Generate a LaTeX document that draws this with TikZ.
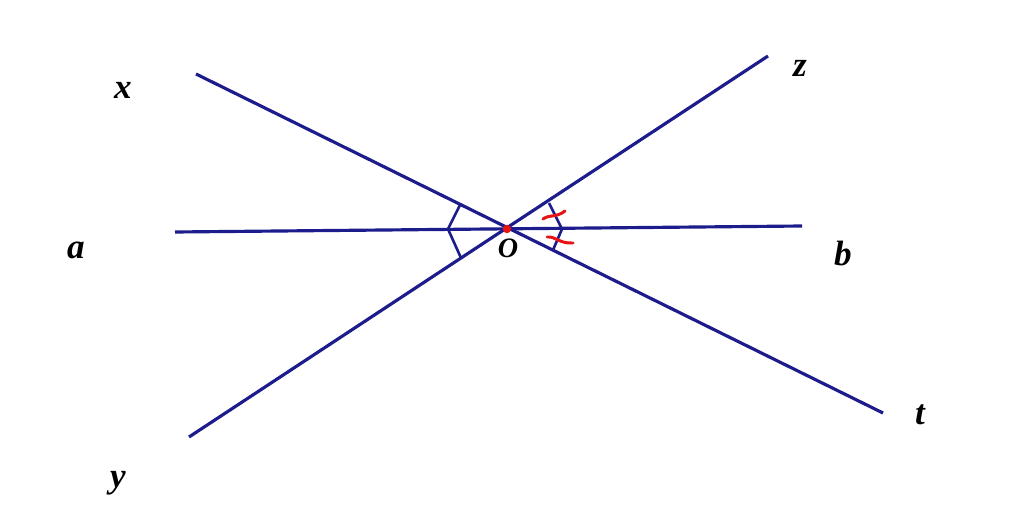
\documentclass[tikz,border=0pt]{standalone}
\usepackage{fontspec}
\setmainfont{Liberation Serif}
\definecolor{navy}{RGB}{28,28,140}
\definecolor{mred}{RGB}{230,20,20}
\begin{document}
\begin{tikzpicture}[x=0.02cm,y=-0.02cm,
  ln/.style={navy,line width=1.8pt},
  mk/.style={navy,line width=1.5pt},
  tick/.style={mred,line width=1.7pt,line cap=round},
  lab/.style={font=\fontsize{20}{24}\selectfont\bfseries\itshape,inner sep=0pt}]
\useasboundingbox (0,0) rectangle (1024,523);
\coordinate (X) at (196,74);
\coordinate (T) at (883,413);
\coordinate (Y) at (189,437);
\coordinate (Z) at (768,56);
\coordinate (A) at (175,232);
\coordinate (B) at (802,226);
\coordinate (O) at (507,229);
\draw[ln] (X) -- (T);
\draw[ln] (Y) -- (Z);
\draw[ln] (A) -- (B);
% angle marks
\coordinate (L1) at (460,205);
\coordinate (L2) at (448,229);
\coordinate (L3) at (461,258);
\draw[mk] (L1) -- (L2) -- (L3);
\coordinate (R1) at (549,203);
\coordinate (R2) at (562,229);
\coordinate (R3) at (553,250);
\draw[mk] (R1) -- (R2) -- (R3);
% red ticks
\coordinate (t1a) at (543,219);
\coordinate (t1b) at (565,211);
\coordinate (t2a) at (547,237);
\coordinate (t2b) at (573,243);
\draw[tick] (t1a) .. controls (550,214) and (556,218) .. (t1b);
\draw[tick] (t2a) .. controls (555,236) and (560,244) .. (t2b);
\fill[mred] (O) circle (2.4pt);
\node[lab,font=\fontsize{16}{19}\selectfont\bfseries\itshape] (lo) at (508,248) {O};
\node[lab] (lx) at (123,90) {x};
\node[lab] (lz) at (800,68) {z};
\node[lab] (lt) at (920,415) {t};
\node[lab] (la) at (76,250) {a};
\node[lab] (lb) at (843,254) {b};
\node[lab] (ly) at (118,483) {y};
\end{tikzpicture}
\end{document}
